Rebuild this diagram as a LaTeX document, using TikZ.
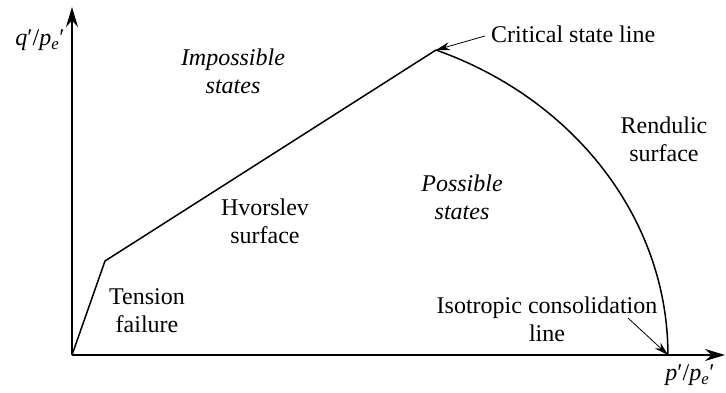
\documentclass[tikz,border=0pt]{standalone}
\usepackage{fontspec}
\setmainfont{LiberationSerif}[Extension=.ttf,UprightFont=*-Regular,ItalicFont=*-Italic,BoldFont=*-Bold]
\usetikzlibrary{arrows.meta}

\begin{document}
\begin{tikzpicture}[x=1pt,y=1pt,>=Stealth,
  lbl/.style={align=center,inner sep=0pt,font=\rmfamily\fontsize{24}{28}\selectfont},
  axis/.style={line width=1.8pt,-{Stealth[length=20pt,width=12pt]}},
  bound/.style={line width=1.5pt,line join=round},
  pointer/.style={line width=.8pt,-{Stealth[length=14pt,width=8pt]}}]
\useasboundingbox (0,0) rectangle (726,392);
% axes
\coordinate (o) at (72,37);
\coordinate (ytip) at (72,385);
\coordinate (xtip) at (725,37);
\draw[axis] (o)--(ytip);
\draw[axis] (o)--(xtip);
\node[lbl] (ylab) at (40,352) {\textit{q}′/\textit{p}\textsubscript{\textit{e}}′};
\node[lbl] (xlab) at (690,17) {\textit{p}′/\textit{p}\textsubscript{\textit{e}}′};
% state boundary
\coordinate (kink) at (105,131);
\coordinate (peak) at (436,342);
\coordinate (iso) at (668,37);
\draw[bound] (o)--(kink)--(peak) arc[start angle=68.3,end angle=0,x radius=368,y radius=328.3];
% labels
\node[lbl,font=\rmfamily\fontsize{24}{28}\selectfont\itshape] (imp) at (233,321) {Impossible\\states};
\node[lbl,font=\rmfamily\fontsize{24}{28}\selectfont\itshape] (pos) at (462,195) {Possible\\states};
\node[lbl] (hvo) at (265,171) {Hvorslev\\surface};
\node[lbl] (ten) at (147,81) {Tension\\failure};
\node[lbl] (ren) at (664,253) {Rendulic\\surface};
\node[lbl,anchor=west] (csl) at (491,358) {Critical state line};
\node[lbl] (icl) at (547,73) {Isotropic consolidation\\line};
\draw[pointer] (csl.west)++(-6,-2) coordinate (cslfoot) -- (peak);
\coordinate (iclfoot) at (628,74);
\draw[pointer] (iclfoot)--(iso);
\end{tikzpicture}
\end{document}
